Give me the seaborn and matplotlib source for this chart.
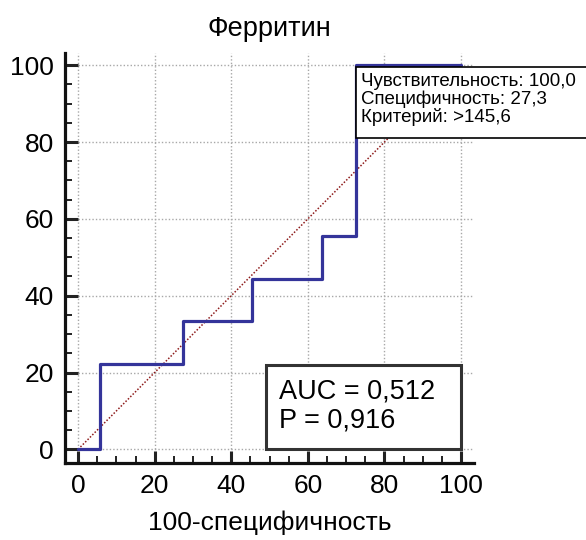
import matplotlib
matplotlib.use("Agg")
import matplotlib.pyplot as plt
from matplotlib.patches import Rectangle
from matplotlib.ticker import MultipleLocator
import seaborn as sns
import pandas as pd

# ROC curve for ferritin (steps: 100-specificity vs sensitivity)
fpr = [0.0, 5.7, 27.3, 45.5, 63.6, 72.7, 100.0]
tpr = [0.0, 22.2, 33.3, 44.4, 55.6, 100.0, 100.0]
ticks = [0, 20, 40, 60, 80, 100]

# optimal criterion point
crit_sens = 100.0
crit_spec = 27.3
crit_value = ">145,6"

auc = 0.512
p_value = 0.916

title = "Ферритин"
xlabel = "100-специфичность"

sns.set_theme(style="white")
plt.rcParams["font.family"] = ["Liberation Sans", "DejaVu Sans"]
plt.rcParams["text.color"] = "black"
plt.rcParams["axes.labelcolor"] = "black"
plt.rcParams["xtick.color"] = "black"
plt.rcParams["ytick.color"] = "black"

fig = plt.figure(figsize=(5.86, 5.40), dpi=100)
ax = fig.add_axes([0.111, 0.143, 0.698, 0.759])
ax.set_xlim(-3.4, 103.4)
ax.set_ylim(-3.5, 103.2)

# dotted grid, from zero to the far edges
ax.vlines(ticks, 0, 103.2, colors="#a8a8a8", linestyles=(0, (1, 1.5)), lw=1.0, zorder=0)
ax.hlines(ticks, 0, 103.4, colors="#a8a8a8", linestyles=(0, (1, 1.5)), lw=1.0, zorder=0)

roc = pd.DataFrame({"fpr": fpr, "tpr": tpr})
sns.lineplot(data=roc, x="fpr", y="tpr", ax=ax, sort=False, estimator=None,
             drawstyle="steps-post", color="#34349a", lw=2.3, zorder=3)

diag = pd.DataFrame({"x": [0, 100], "y": [0, 100]})
sns.lineplot(data=diag, x="x", y="y", ax=ax, sort=False, estimator=None,
             color="#8e1b1b", lw=1.1, linestyle=(0, (1, 1.2)), zorder=2)

# criterion box anchored at the selected point; it runs off the right edge
cx, cy = 100 - crit_spec, crit_sens
ax.add_patch(Rectangle((cx, cy - 19.0), 90, 18.6, facecolor="white",
                       edgecolor="black", lw=1.2, clip_on=False, zorder=5))
ax.text(cx + 1.3, cy - 1.9,
        f"Чувствительность: {crit_sens:.1f}".replace(".", ",") + "\n"
        + f"Специфичность: {crit_spec:.1f}".replace(".", ",") + "\n"
        + f"Критерий: {crit_value}",
        ha="left", va="top", fontsize=13.5, linespacing=1.05,
        color="black", zorder=6, clip_on=False)

# AUC box
ax.add_patch(Rectangle((49.0, 0.2), 51.0, 21.7, facecolor="white",
                       edgecolor="#333333", lw=2.2, zorder=5))
ax.text(52.5, 11.3,
        f"AUC = {auc:.3f}".replace(".", ",") + "\n" + f"P = {p_value:.3f}".replace(".", ","),
        ha="left", va="center", fontsize=19.5, linespacing=1.15, color="black", zorder=6)

ax.set_xticks(ticks)
ax.set_yticks(ticks)
ax.xaxis.set_minor_locator(MultipleLocator(5))
ax.yaxis.set_minor_locator(MultipleLocator(5))
ax.tick_params(which="major", direction="in", length=9, width=2.2, color="#222222",
               labelsize=19, pad=8, bottom=True, left=True)
ax.tick_params(which="minor", direction="in", length=4.8, width=1.4, color="#222222",
               bottom=True, left=True)

for side in ("top", "right"):
    ax.spines[side].set_visible(False)
for side in ("left", "bottom"):
    ax.spines[side].set_linewidth(2.3)
    ax.spines[side].set_color("#111111")

ax.set_title(title, fontsize=19.5, pad=12)
ax.set_xlabel(xlabel, fontsize=19, labelpad=9)
ax.set_ylabel("")

fig.savefig("out.png", dpi=100)
